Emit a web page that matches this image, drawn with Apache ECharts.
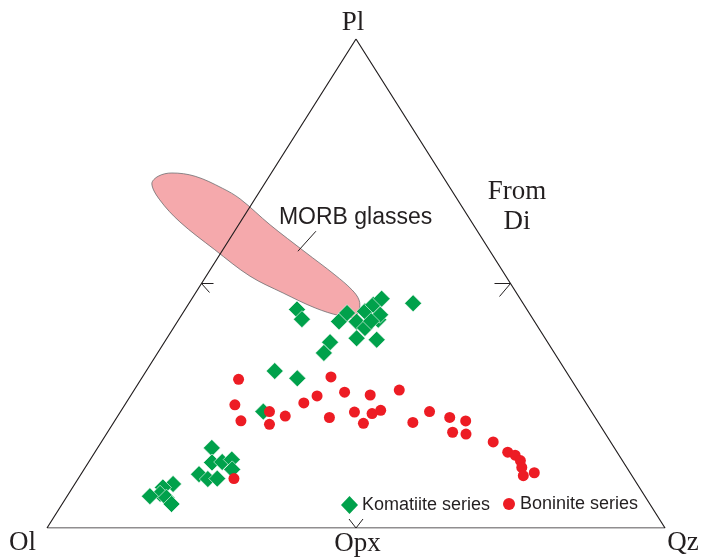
<!DOCTYPE html>
<html>
<head>
<meta charset="utf-8">
<script src="https://cdn.jsdelivr.net/npm/echarts@6/dist/echarts.min.js"></script>
<style>
  html, body { margin: 0; padding: 0; background: #ffffff; }
  #chart { width: 704px; height: 558px; }
</style>
</head>
<body>
<div id="chart"></div>
<script>
// All compositions are ternary percentages in the order [Ol, Pl, Qz]
// (projected from Di).

const cornerLabels = ['Ol', 'Pl', 'Qz'];
const edgeLabel = 'Opx';
const projectionLabel = 'From\nDi';
const fieldLabel = 'MORB glasses';
const seriesNames = ['Komatiite series', 'Boninite series'];

const komatiite = [
  [37.2, 44.7, 18.1], [37.4, 42.7, 19.9], [31.6, 42.2, 26.1], [29.5, 44.0, 26.6],
  [28.8, 42.2, 29.0], [26.4, 44.3, 29.3], [24.4, 45.7, 30.0], [22.4, 46.9, 30.7],
  [25.1, 42.6, 32.3], [24.3, 43.6, 32.1], [28.1, 40.9, 31.0], [30.5, 38.8, 30.7],
  [27.4, 38.5, 34.1], [17.8, 46.0, 36.3], [35.2, 38.0, 26.8], [37.3, 35.8, 26.9],
  [26.4, 42.3, 31.3], [47.1, 32.1, 20.8], [44.2, 30.6, 25.2], [53.1, 23.8, 23.1],
  [65.2, 16.4, 18.5], [66.6, 13.4, 20.0], [64.9, 13.5, 21.6], [63.1, 14.0, 22.9],
  [64.1, 12.0, 24.0], [69.9, 11.0, 19.1], [68.9, 10.0, 21.0], [67.4, 10.1, 22.5],
  [75.1, 9.0, 15.9], [77.1, 8.3, 14.6], [78.2, 7.0, 14.8], [80.1, 6.5, 13.4],
  [77.5, 6.2, 16.2], [77.4, 4.9, 17.7]
];

const boninite = [
  [53.8, 30.4, 15.8], [57.0, 25.2, 17.8], [57.6, 21.9, 20.4], [52.1, 23.8, 24.1],
  [53.4, 21.2, 25.4], [50.0, 22.9, 27.1], [45.7, 25.6, 28.8], [42.8, 27.0, 30.2],
  [38.6, 30.9, 30.5], [43.0, 22.6, 34.4], [38.0, 27.8, 34.3], [38.4, 23.7, 37.9],
  [38.1, 21.4, 40.5], [34.1, 27.2, 38.7], [35.7, 23.4, 40.9], [34.0, 24.1, 42.0],
  [28.9, 28.2, 42.9], [30.0, 21.6, 48.4], [26.2, 23.8, 50.0], [23.5, 22.6, 53.8],
  [21.3, 21.9, 56.8], [24.6, 19.6, 55.9], [22.6, 19.2, 58.2], [19.0, 17.6, 63.4],
  [17.7, 15.5, 66.8], [16.8, 14.9, 68.3], [16.5, 13.8, 69.7], [17.0, 12.4, 70.7],
  [17.6, 10.7, 71.8], [15.5, 11.3, 73.2], [64.7, 10.1, 25.2]
];

// Outline of the MORB glass field (extends past the Ol-Pl join)
const morbGlasses = [
  [47.8, 70.3, -18.2], [46.1, 72.0, -18.0], [43.5, 72.6, -16.1], [40.1, 72.0, -12.0],
  [36.9, 69.5, -6.4], [35.1, 67.3, -2.4], [32.9, 62.0, 5.1], [30.0, 56.4, 13.5],
  [27.5, 51.7, 20.7], [26.3, 48.7, 25.0], [26.2, 46.6, 27.2], [27.2, 44.6, 28.2],
  [28.7, 43.1, 28.1], [30.9, 43.4, 25.7], [34.1, 45.0, 20.9], [37.8, 48.1, 14.2],
  [41.4, 51.5, 7.1], [44.4, 56.9, -1.3], [47.2, 62.6, -9.8], [48.2, 67.1, -15.3]
];
const morbLabelAnchor = [31.1, 56.6, 12.3];

const corners = [[100, 0, 0], [0, 100, 0], [0, 0, 100]];
const opxPoint = [50, 0, 50];
const olPlMid = [50, 50, 0];
const plQzMid = [0, 50, 50];

// Ternary -> cartesian (unit triangle, Pl at the top)
function toXY(p) {
  const s = p[0] + p[1] + p[2];
  const pl = p[1] / s, qz = p[2] / s;
  return [qz + pl / 2, pl];
}

const ink = '#231f20';
const serif = '"Liberation Serif", "Times New Roman", serif';
const sans = '"Liberation Sans", Arial, sans-serif';

function textEl(pos, dx, dy, text, font, align, lineHeight) {
  return {
    type: 'text',
    x: pos[0] + dx, y: pos[1] + dy,
    style: {
      text: text, font: font, fill: ink,
      align: align || 'center', verticalAlign: 'middle',
      lineHeight: lineHeight
    }
  };
}
function lineEl(pts, color, width) {
  return {
    type: 'polyline',
    shape: { points: pts },
    style: { stroke: color, lineWidth: width, fill: null }
  };
}

const chart = echarts.init(document.getElementById('chart'), null, { renderer: 'canvas' });

chart.setOption({
  animation: false,
  backgroundColor: '#ffffff',
  grid: { left: 47, top: 39, width: 618, height: 489 },
  xAxis: { type: 'value', min: 0, max: 1, show: false },
  yAxis: { type: 'value', min: 0, max: 1, show: false },
  legend: [
    {
      data: [{ name: seriesNames[0], icon: 'diamond', itemStyle: { borderWidth: 0 } }],
      left: 341, top: 496, padding: 0,
      itemWidth: 17, itemHeight: 18, itemGap: 0,
      textStyle: { fontFamily: sans, fontSize: 18, color: ink, padding: [0, 0, 0, -1] }
    },
    {
      data: [{ name: seriesNames[1], icon: 'circle' }],
      left: 503, top: 495, padding: 0,
      itemWidth: 12, itemHeight: 12,
      textStyle: { fontFamily: sans, fontSize: 18, color: ink }
    }
  ],
  series: [
    {
      // MORB glass field
      type: 'custom',
      z: 1,
      silent: true,
      data: [[0.5, 0.5]],
      renderItem: function (params, api) {
        const pts = morbGlasses.map(function (p) { return api.coord(toXY(p)); });
        const a = api.coord(toXY(morbLabelAnchor));
        return {
          type: 'group',
          children: [
            {
              type: 'polygon',
              shape: { points: pts, smooth: 0.35 },
              style: { fill: '#f5a9ac', stroke: '#6d6e71', lineWidth: 0.8 }
            },
            lineEl([[a[0], a[1]], [a[0] + 18, a[1] - 20]], ink, 1),
            textEl(a, -19, -33.5, fieldLabel, '23px ' + sans, 'left')
          ]
        };
      }
    },
    {
      // Triangle frame
      type: 'line',
      z: 2,
      silent: true,
      symbol: 'none',
      lineStyle: { color: ink, width: 1.2 },
      data: corners.concat([corners[0]]).map(toXY)
    },
    {
      // Corner labels, join marks and projection note
      type: 'custom',
      z: 3,
      silent: true,
      data: [[0.5, 0.5]],
      renderItem: function (params, api) {
        const ol = api.coord(toXY(corners[0]));
        const pl = api.coord(toXY(corners[1]));
        const qz = api.coord(toXY(corners[2]));
        const opx = api.coord(toXY(opxPoint));
        const m1 = api.coord(toXY(olPlMid));
        const m2 = api.coord(toXY(plQzMid));
        const big = '27px ' + serif;
        return {
          type: 'group',
          children: [
            textEl(ol, -24.5, 14.5, cornerLabels[0], big),
            textEl(pl, -3, -16, cornerLabels[1], big),
            textEl(qz, 18, 15, cornerLabels[2], big),
            textEl(opx, 1.5, 15.5, edgeLabel, big),
            textEl(m2, 6.5, -76.5, projectionLabel, big, 'center', 30),
            lineEl([[m1[0] + 12, m1[1]], [m1[0], m1[1]], [m1[0] + 8, m1[1] + 9]], ink, 1),
            lineEl([[m2[0] - 16, m2[1]], [m2[0], m2[1]], [m2[0] - 11, m2[1] + 13]], ink, 1),
            lineEl([[opx[0] - 7, opx[1] - 9], [opx[0], opx[1]], [opx[0] + 7, opx[1] - 9]], ink, 1)
          ]
        };
      }
    },
    {
      name: seriesNames[0],
      type: 'scatter',
      z: 4,
      symbol: 'diamond',
      symbolSize: 17,
      itemStyle: { color: '#00a14b', borderColor: '#ffffff', borderWidth: 0.6, opacity: 1 },
      data: komatiite.map(toXY)
    },
    {
      name: seriesNames[1],
      type: 'scatter',
      z: 5,
      symbol: 'circle',
      symbolSize: 11,
      itemStyle: { color: '#ed1c24', opacity: 1 },
      data: boninite.map(toXY)
    }
  ]
});
</script>
</body>
</html>
